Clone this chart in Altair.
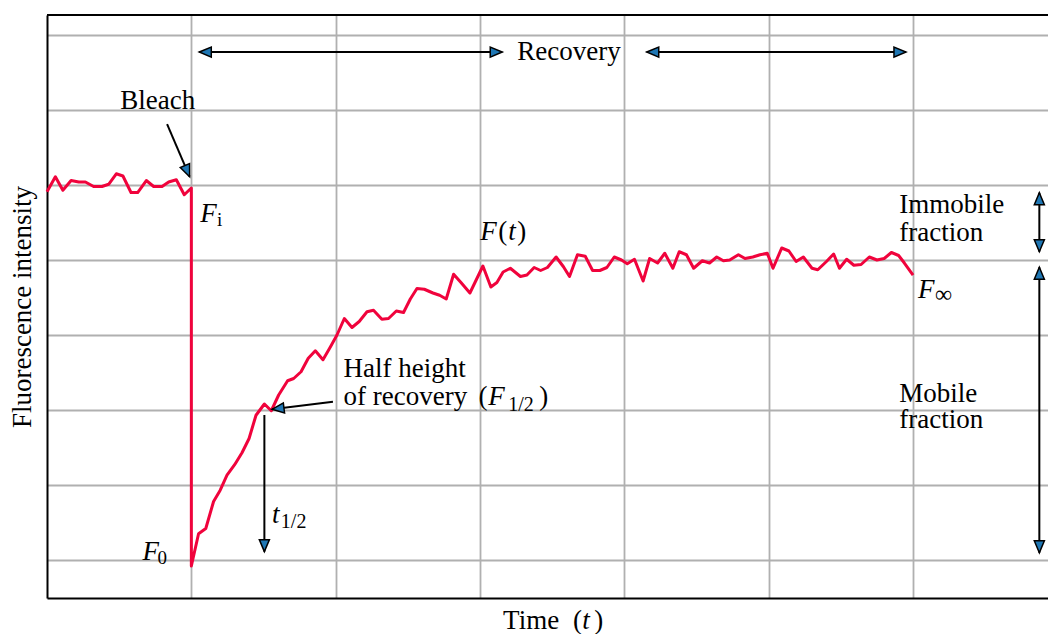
import altair as alt
import pandas as pd

# ---------------- data ----------------
# pre-bleach signal
t_pre = [0.0, 0.058, 0.11, 0.167, 0.22, 0.266, 0.323, 0.381, 0.427, 0.48,
         0.526, 0.582, 0.628, 0.688, 0.739, 0.797, 0.843, 0.896, 0.951, 1.0]
f_pre = [4.91, 5.11, 4.93, 5.06, 5.04, 5.04, 4.98, 4.98, 5.01, 5.15,
         5.12, 4.90, 4.90, 5.06, 4.98, 4.98, 5.04, 5.07, 4.87, 4.96]
# bleach + recovery
t_rec = [1.0, 1.05, 1.10, 1.154, 1.2, 1.247, 1.3, 1.351, 1.40, 1.448,
         1.506, 1.554, 1.605, 1.667, 1.709, 1.76, 1.81, 1.859, 1.912, 1.963,
         2.009, 2.06, 2.113, 2.163, 2.217, 2.262, 2.32, 2.366, 2.42, 2.47,
         2.517, 2.563, 2.614, 2.674, 2.72, 2.766, 2.817, 2.868, 2.93, 3.02,
         3.075, 3.117, 3.16, 3.21, 3.28, 3.325, 3.375, 3.42, 3.467, 3.527,
         3.578, 3.62, 3.675, 3.729, 3.78, 3.83, 3.879, 3.93, 3.98, 4.02,
         4.07, 4.13, 4.175, 4.23, 4.28, 4.336, 4.38, 4.43, 4.48, 4.54,
         4.59, 4.64, 4.686, 4.73, 4.79, 4.836, 4.89, 4.94, 4.99, 5.03,
         5.09, 5.14, 5.19, 5.24, 5.30, 5.34, 5.40, 5.45, 5.49, 5.54,
         5.59, 5.64, 5.697, 5.75, 5.80, 5.85, 5.90, 5.94, 6.0]
f_rec = [-0.08, 0.35, 0.42, 0.78, 0.93, 1.13, 1.27, 1.43, 1.62, 1.93,
         2.08, 1.99, 2.20, 2.39, 2.42, 2.51, 2.69, 2.79, 2.67, 2.84,
         3.0, 3.22, 3.10, 3.18, 3.31, 3.33, 3.21, 3.22, 3.32, 3.30,
         3.48, 3.62, 3.61, 3.56, 3.53, 3.48, 3.81, 3.70, 3.56, 3.92,
         3.64, 3.70, 3.84, 3.89, 3.78, 3.80, 3.90, 3.86, 3.90, 4.04,
         3.91, 3.78, 4.07, 4.05, 3.86, 3.86, 3.90, 4.04, 4.00, 3.95,
         4.01, 3.72, 4.02, 3.96, 4.09, 3.89, 4.11, 4.07, 3.89, 3.99,
         3.96, 4.04, 3.99, 4.00, 4.07, 4.02, 4.04, 4.07, 4.09, 3.89,
         4.16, 4.12, 3.98, 4.04, 3.89, 3.87, 3.98, 4.08, 3.89, 4.01,
         3.93, 3.94, 4.04, 4.00, 4.02, 4.10, 4.06, 3.96, 3.80]

x_grid = [1, 2, 3, 4, 5, 6]
y_grid = [0, 1, 2, 3, 4, 5, 6, 7]
X_DOMAIN = [0, 6.935]
Y_DOMAIN = [-0.507, 7.267]

# arrows (start -> tip), in data units
arr_x = [0.832, 1.055, 4.155, 1.981, 1.506, 6.875, 6.875]
arr_y = [5.813, 6.773, 6.773, 2.111, 1.933, 4.897, 3.903]
arr_x2 = [0.988, 3.154, 5.951, 1.559, 1.506, 6.875, 6.875]
arr_y2 = [5.111, 6.773, 6.773, 2.009, 0.111, 4.111, 0.097]
# arrow heads: tip position and direction (degrees clockwise from up)
head_x = [0.988, 1.055, 3.154, 4.155, 5.951, 1.559, 1.506, 6.875, 6.875, 6.875, 6.875]
head_y = [5.111, 6.773, 6.773, 6.773, 6.773, 2.009, 0.111, 4.897, 4.111, 3.903, 0.097]
head_angle = [157, 270, 90, 270, 90, 263, 180, 0, 180, 0, 180]

# text pieces
roman_text = ["Bleach", "Recovery", "Half height", "of recovery", "(", ")",
              "Immobile", "fraction", "Mobile", "fraction", "(", ")",
              "Time", "(", ")"]
roman_x = [0.508, 3.258, 2.055, 2.055, 2.990, 3.410, 5.905, 5.905, 5.905, 5.905,
           3.126, 3.258, 3.160, 3.645, 3.791]
roman_y = [6.009, 6.667, 2.444, 2.067, 2.067, 2.067, 4.623, 4.257, 2.103, 1.756,
           4.267, 4.267, -0.92, -0.92, -0.92]
italic_text = ["F", "F", "t", "F", "F", "F", "t", "t"]
italic_x = [1.062, 3.001, 3.195, 6.035, 0.661, 3.057, 1.559, 3.708]
italic_y = [4.511, 4.267, 4.267, 3.493, 0.0, 2.067, 0.489, -0.92]
sub_text = ["i", "∞", "0", "1/2", "1/2"]
sub_x = [1.178, 6.152, 0.765, 3.195, 1.620]
sub_y = [4.453, 3.44, -0.053, 1.987, 0.427]
sub_size = [19, 24, 19, 20, 20]

# ---------------- chart ----------------
FONT = "Liberation Serif, Times New Roman, serif"
xs = alt.Scale(domain=X_DOMAIN, nice=False, zero=False)
ys = alt.Scale(domain=Y_DOMAIN, nice=False, zero=False)

xaxis = alt.Axis(values=x_grid, grid=True, gridColor="#b0b0b0", gridWidth=1.8,
                 ticks=False, labels=False, domain=True, domainColor="black",
                 domainWidth=2, title=None)
yaxis = alt.Axis(values=y_grid, grid=True, gridColor="#b0b0b0", gridWidth=1.8,
                 ticks=False, labels=False, domain=True, domainColor="black",
                 domainWidth=2, title="Fluorescence intensity",
                 titleFont=FONT, titleFontSize=27, titleFontWeight="normal",
                 titleColor="black", titleX=-17, titleY=291.5,
                 titleBaseline="alphabetic", titleAlign="center", titleAngle=270)


def X(field):
    return alt.X(field, scale=xs, axis=xaxis, title=None)


def Y(field):
    return alt.Y(field, scale=ys, axis=yaxis, title="Fluorescence intensity")


curve = pd.DataFrame({
    "t": t_pre + t_rec,
    "F": f_pre + f_rec,
    "order": list(range(len(t_pre) + len(t_rec))),
})

line = alt.Chart(curve).mark_line(
    color="#f0033c", strokeWidth=3, strokeJoin="round"
).encode(x=X("t:Q"), y=Y("F:Q"), order="order:Q")

top_border = alt.Chart(pd.DataFrame({"k": [0]})).mark_rule(
    color="black", strokeWidth=2
).encode(x=alt.value(0), x2=alt.value(1001), y=alt.value(0))

arrows = alt.Chart(pd.DataFrame({"t": arr_x, "F": arr_y, "t2": arr_x2, "F2": arr_y2})).mark_rule(
    color="black", strokeWidth=2
).encode(x=X("t:Q"), y=Y("F:Q"), x2="t2:Q", y2="F2:Q")

ARROW_PATH = "M0,0L0.42,1L-0.42,1Z"
heads = alt.Chart(pd.DataFrame({"t": head_x, "F": head_y, "a": head_angle})).mark_point(
    shape=ARROW_PATH, size=576, filled=True, fill="#1f77b4", stroke="black",
    strokeWidth=1.5, opacity=1
).encode(x=X("t:Q"), y=Y("F:Q"), angle=alt.Angle("a:Q", scale=None))

roman = alt.Chart(pd.DataFrame({"t": roman_x, "F": roman_y, "s": roman_text})).mark_text(
    font=FONT, fontSize=27, align="left", baseline="alphabetic", color="black"
).encode(x=X("t:Q"), y=Y("F:Q"), text="s:N")

italic = alt.Chart(pd.DataFrame({"t": italic_x, "F": italic_y, "s": italic_text})).mark_text(
    font=FONT, fontSize=27, fontStyle="italic", align="left", baseline="alphabetic", color="black"
).encode(x=X("t:Q"), y=Y("F:Q"), text="s:N")

subs = alt.Chart(pd.DataFrame({"t": sub_x, "F": sub_y, "s": sub_text, "fs": sub_size})).mark_text(
    font=FONT, align="left", baseline="alphabetic", color="black"
).encode(x=X("t:Q"), y=Y("F:Q"), text="s:N", size=alt.Size("fs:Q", scale=None))

chart = alt.layer(line, top_border, arrows, heads, roman, italic, subs).properties(
    width=1001,
    height=583,
    autosize=alt.AutoSizeParams(type="none"),
    padding={"left": 47, "top": 15, "right": 0, "bottom": 36},
    background="white",
).configure_view(stroke=None)

chart.save("out.html", embed_options={"renderer": "svg", "actions": False})
